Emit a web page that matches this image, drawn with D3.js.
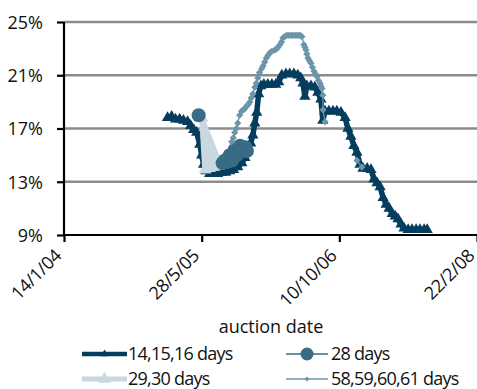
<!DOCTYPE html>
<html>
<head>
<meta charset="utf-8">
<script src="https://cdn.jsdelivr.net/npm/d3@7"></script>
<style>
  html, body { margin: 0; padding: 0; background: #fff; }
  svg { display: block; font-family: "Open Sans", "Noto Sans", sans-serif; }
</style>
</head>
<body>
<svg id="chart" width="477" height="389"></svg>
<script>
// Auction yields (%) by auction date, one list per maturity bucket
const seriesNames = ["14,15,16 days", "28 days", "29,30 days", "58,59,60,61 days"];

const days14to16 = [
  ["2005-01-24", 17.8], ["2005-02-08", 17.9], ["2005-02-22", 17.7], ["2005-03-09", 17.7],
  ["2005-03-23", 17.6], ["2005-04-07", 17.5], ["2005-04-18", 17.2], ["2005-04-29", 16.9],
  ["2005-05-10", 16.7], ["2005-05-21", 15.8], ["2005-05-28", 15.0], ["2005-06-04", 14.3],
  ["2005-06-12", 13.8], ["2005-06-26", 13.6], ["2005-07-11", 13.7], ["2005-07-25", 13.6],
  ["2005-08-09", 13.7], ["2005-08-23", 13.7], ["2005-09-07", 13.8], ["2005-09-21", 13.9],
  ["2005-10-06", 14.1], ["2005-10-21", 14.4], ["2005-11-01", 14.8], ["2005-11-11", 15.3],
  ["2005-11-22", 15.9], ["2005-11-30", 16.5], ["2005-12-07", 17.4], ["2005-12-14", 18.2],
  ["2005-12-21", 19.6], ["2005-12-29", 20.2], ["2006-01-09", 20.3], ["2006-01-23", 20.3],
  ["2006-02-07", 20.3], ["2006-02-21", 20.3], ["2006-03-04", 20.5], ["2006-03-15", 21.0],
  ["2006-03-30", 21.1], ["2006-04-13", 21.1], ["2006-04-28", 21.1], ["2006-05-12", 21.0],
  ["2006-05-23", 20.8], ["2006-05-31", 20.4], ["2006-06-07", 19.4], ["2006-06-14", 20.2],
  ["2006-06-29", 20.2], ["2006-07-13", 20.1], ["2006-07-24", 19.7], ["2006-08-04", 19.2],
  ["2006-08-11", 17.6], ["2006-08-19", 18.3], ["2006-09-02", 18.3], ["2006-09-17", 18.3],
  ["2006-10-01", 18.3], ["2006-10-16", 18.2], ["2006-10-31", 17.8], ["2006-11-10", 17.0],
  ["2006-11-21", 16.4], ["2006-12-02", 15.7], ["2006-12-13", 15.2], ["2006-12-24", 14.3],
  ["2007-01-04", 14.0], ["2007-01-19", 14.0], ["2007-02-02", 13.9], ["2007-02-13", 13.2],
  ["2007-02-24", 12.9], ["2007-03-07", 12.6], ["2007-03-18", 11.8], ["2007-03-29", 11.3],
  ["2007-04-09", 11.0], ["2007-04-20", 10.6], ["2007-05-01", 10.4], ["2007-05-11", 10.2],
  ["2007-05-22", 9.8], ["2007-06-02", 9.5], ["2007-06-17", 9.4], ["2007-07-01", 9.4],
  ["2007-07-16", 9.4], ["2007-07-30", 9.4], ["2007-08-14", 9.4], ["2007-08-25", 9.4]
];

// null marks auctions with no 28-day result
const days28 = [
  ["2005-05-17", 18.0], ["2005-07-01", null],
  ["2005-08-12", 14.4], ["2005-08-20", 14.6], ["2005-08-29", 14.5], ["2005-09-07", 15.0],
  ["2005-09-16", 14.6], ["2005-09-25", 15.4], ["2005-10-04", 15.0], ["2005-10-14", 15.7],
  ["2005-10-24", 15.4], ["2005-11-03", 15.6], ["2005-11-08", 15.3]
];

// listed in the order the auctions were recorded
const days29to30 = [
  ["2005-05-28", 17.8], ["2005-06-08", 13.9], ["2005-05-28", 17.8], ["2005-06-12", 13.9],
  ["2005-05-28", 17.8], ["2005-06-16", 14.0], ["2005-05-28", 17.8], ["2005-06-20", 14.0],
  ["2005-05-28", 17.8], ["2005-06-24", 14.0], ["2005-05-28", 17.8], ["2005-06-28", 14.0],
  ["2005-05-28", 17.8], ["2005-07-02", 14.1], ["2005-05-28", 17.8], ["2005-07-06", 14.1],
  ["2005-05-28", 17.8], ["2005-07-10", 14.1], ["2005-05-28", 17.8], ["2005-07-14", 14.1],
  ["2005-05-28", 17.8], ["2005-07-18", 14.2], ["2005-05-28", 17.8], ["2005-07-22", 14.2],
  ["2005-05-28", 17.8], ["2005-07-26", 14.2], ["2005-05-28", 17.8], ["2005-07-30", 14.2],
  ["2005-05-28", 17.8], ["2005-08-04", 14.3]
];

const days58to61 = [
  ["2005-09-14", 16.0], ["2005-09-20", 16.3], ["2005-09-25", 16.7], ["2005-10-01", 17.0],
  ["2005-10-06", 17.4], ["2005-10-13", 18.0], ["2005-10-20", 18.3], ["2005-10-26", 18.4],
  ["2005-11-01", 18.5], ["2005-11-08", 18.7], ["2005-11-13", 18.8], ["2005-11-19", 19.0],
  ["2005-11-24", 19.3], ["2005-11-30", 19.6], ["2005-12-07", 20.1], ["2005-12-12", 20.4],
  ["2005-12-18", 20.8], ["2005-12-24", 21.2], ["2006-01-01", 21.5], ["2006-01-06", 21.7],
  ["2006-01-12", 22.0], ["2006-01-18", 22.3], ["2006-01-24", 22.5], ["2006-01-31", 22.7],
  ["2006-02-07", 22.8], ["2006-02-18", 22.9], ["2006-02-25", 23.0], ["2006-03-01", 23.1],
  ["2006-03-08", 23.3], ["2006-03-14", 23.5], ["2006-03-19", 23.8], ["2006-03-25", 23.9],
  ["2006-04-02", 24.0], ["2006-04-09", 24.0], ["2006-04-17", 24.0], ["2006-04-24", 24.0],
  ["2006-05-02", 24.0], ["2006-05-09", 24.0], ["2006-05-16", 24.0], ["2006-05-21", 24.0],
  ["2006-05-27", 23.9], ["2006-06-03", 23.3], ["2006-06-07", 23.1], ["2006-06-11", 22.9],
  ["2006-06-14", 22.6], ["2006-06-18", 22.3], ["2006-06-23", 22.1], ["2006-06-29", 21.9],
  ["2006-07-04", 21.6], ["2006-07-10", 21.3], ["2006-07-15", 21.1], ["2006-07-21", 20.9],
  ["2006-07-26", 20.6], ["2006-08-01", 20.4], ["2006-08-04", 20.2], ["2006-08-08", 20.0],
  ["2006-08-11", 19.5], ["2006-08-12", 18.4], ["2006-08-19", 17.5], ["2006-10-15", null],
  ["2006-12-13", 14.6], ["2006-12-31", 14.1]
];

const xTickDates = ["2004-01-14", "2005-05-28", "2006-10-10", "2008-02-22"];
const xTickLabels = ["14/1/04", "28/5/05", "10/10/06", "22/2/08"];
const yTicks = [9, 13, 17, 21, 25];
const xTitle = "auction date";

const parse = d3.timeParse("%Y-%m-%d");
const svg = d3.select("#chart");

const x = d3.scaleTime()
  .domain([parse(xTickDates[0]), parse(xTickDates[xTickDates.length - 1])])
  .range([64, 477]);
const y = d3.scaleLinear().domain([9, 25]).range([235, 22]);

const colors = ["#053d5e", "#386b85", "#c9d8e0", "#6d94a8"];
const textColor = "#111";

// horizontal gridlines
svg.append("g").selectAll("line")
  .data(yTicks.filter(v => v !== 9))
  .join("line")
  .attr("x1", 64).attr("x2", 477)
  .attr("y1", d => y(d)).attr("y2", d => y(d))
  .attr("stroke", "#8c8c8c").attr("stroke-width", 2.5);

// axes
const yAxis = svg.append("g").attr("transform", "translate(64,0)")
  .call(d3.axisLeft(y).tickValues(yTicks).tickFormat(d => d + "%").tickSize(7).tickPadding(14));
const xAxis = svg.append("g").attr("transform", "translate(0,235)")
  .call(d3.axisBottom(x).tickValues(xTickDates.map(parse))
    .tickFormat((d, i) => xTickLabels[i]).tickSize(7).tickSizeOuter(0));

[yAxis, xAxis].forEach(g => {
  g.select(".domain").attr("stroke", "#000").attr("stroke-width", 2.2);
  g.selectAll(".tick line").attr("stroke", "#000").attr("stroke-width", 2.2);
  g.selectAll("text").attr("fill", textColor)
    .style("font-size", "18px").style("font-family", "'Open Sans', sans-serif");
});
yAxis.selectAll("text").attr("dy", "0.36em");
xAxis.selectAll(".tick text")
  .attr("text-anchor", "end")
  .attr("dy", 0).attr("y", 0)
  .style("letter-spacing", "-0.4px")
  .attr("transform", "translate(-2,22) rotate(-45)");
yAxis.select(".domain").attr("d", "M0,22V236");
xAxis.select(".domain").attr("d", "M63,0H477");

svg.append("text")
  .attr("x", 271).attr("y", 333)
  .attr("text-anchor", "middle")
  .attr("fill", textColor).style("font-size", "18px")
  .text(xTitle);

const toPts = arr => arr.map(([d, v]) => ({ date: parse(d), value: v }));
const line = d3.line()
  .defined(d => d.value !== null)
  .x(d => x(d.date)).y(d => y(d.value));

const tri = (s) => d3.symbol().type(d3.symbolTriangle).size(s)();
const diamond = (s) => `M0,${-s}L${s},0L0,${s}L${-s},0Z`;

function drawSeries(data, opt) {
  const pts = toPts(data);
  const g = svg.append("g");
  g.append("path").datum(pts)
    .attr("d", line)
    .attr("fill", "none")
    .attr("stroke", opt.color)
    .attr("stroke-width", opt.width)
    .attr("stroke-linejoin", "round");
  const marks = pts.filter(d => d.value !== null);
  if (opt.marker === "circle") {
    g.selectAll("circle").data(marks).join("circle")
      .attr("cx", d => x(d.date)).attr("cy", d => y(d.value))
      .attr("r", opt.size).attr("fill", opt.color);
  } else {
    g.selectAll("path.m").data(marks).join("path").attr("class", "m")
      .attr("transform", d => `translate(${x(d.date)},${y(d.value)})`)
      .attr("d", opt.marker === "tri" ? tri(opt.size) : diamond(opt.size))
      .attr("fill", opt.color);
  }
}

drawSeries(days14to16, { color: colors[0], width: 5.5, marker: "tri", size: 55 });
drawSeries(days29to30, { color: colors[2], width: 5, marker: "tri", size: 60 });
drawSeries(days28, { color: colors[1], width: 1.3, marker: "circle", size: 7 });
drawSeries(days58to61, { color: colors[3], width: 1.3, marker: "diamond", size: 3.6 });

// legend
const legendItems = [
  { name: seriesNames[0], color: colors[0], width: 4.5, marker: "tri", size: 26, x: 82, y: 354 },
  { name: seriesNames[1], color: colors[1], width: 1.3, marker: "circle", size: 6.5, x: 286, y: 354 },
  { name: seriesNames[2], color: colors[2], width: 5, marker: "tri", size: 70, x: 82, y: 379 },
  { name: seriesNames[3], color: colors[3], width: 1.3, marker: "diamond", size: 2.6, x: 286, y: 379 }
];
const lg = svg.append("g").selectAll("g").data(legendItems).join("g")
  .attr("transform", d => `translate(${d.x},${d.y})`);
lg.append("line")
  .attr("x1", 0).attr("x2", d => d.x < 200 ? 45 : 42)
  .attr("stroke", d => d.color).attr("stroke-width", d => d.width);
lg.each(function (d) {
  const g = d3.select(this);
  const cx = d.x < 200 ? 22.5 : 21;
  if (d.marker === "circle") {
    g.append("circle").attr("cx", cx).attr("r", d.size).attr("fill", d.color);
  } else {
    g.append("path").attr("transform", `translate(${cx},0)`)
      .attr("d", d.marker === "tri" ? tri(d.size) : diamond(d.size))
      .attr("fill", d.color);
  }
});
lg.append("text")
  .attr("x", d => d.x < 200 ? 46 : 45)
  .attr("dy", "0.36em")
  .attr("fill", textColor).style("font-size", "18px")
  .style("letter-spacing", "-0.75px")
  .text(d => d.name);
</script>
</body>
</html>
